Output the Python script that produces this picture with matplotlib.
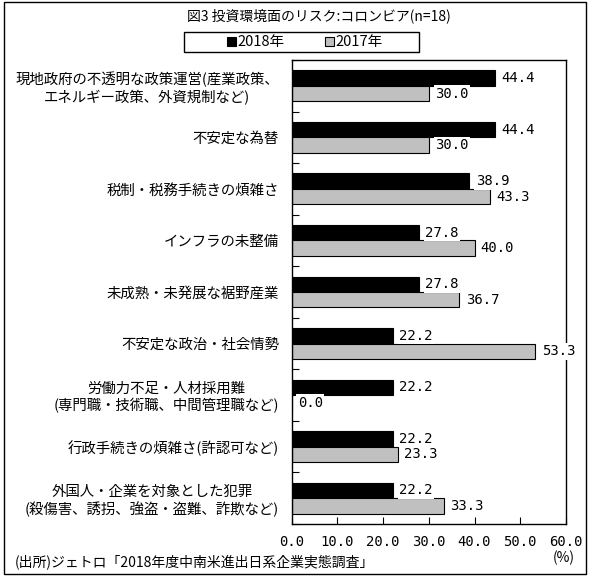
import matplotlib
matplotlib.use("Agg")
import matplotlib.pyplot as plt
from matplotlib.patches import Rectangle
import numpy as np

plt.rcParams['font.family'] = ['Noto Sans CJK JP', 'DejaVu Sans']

categories = [
    "現地政府の不透明な政策運営(産業政策、\nエネルギー政策、外資規制など)",
    "不安定な為替",
    "税制・税務手続きの煩雑さ",
    "インフラの未整備",
    "未成熟・未発展な裾野産業",
    "不安定な政治・社会情勢",
    "労働力不足・人材採用難\n(専門職・技術職、中間管理職など)",
    "行政手続きの煩雑さ(許認可など)",
    "外国人・企業を対象とした犯罪\n(殺傷害、誘拐、強盗・盗難、詐欺など)",
]
values_2018 = [44.4, 44.4, 38.9, 27.8, 27.8, 22.2, 22.2, 22.2, 22.2]
values_2017 = [30.0, 30.0, 43.3, 40.0, 36.7, 53.3, 0.0, 23.3, 33.3]
series_names = ["2018年", "2017年"]
series_colors = ["black", "#c0c0c0"]
xticks = [0, 10, 20, 30, 40, 50, 60]
title = "図3 投資環境面のリスク:コロンビア(n=18)"
source = "(出所)ジェトロ「2018年度中南米進出日系企業実態調査」"

W, H = 592, 580
fig = plt.figure(figsize=(W / 100, H / 100), dpi=100)

def fx(px):
    return px / W

def fy(py):
    return 1 - py / H

# outer border
fig.patches.append(Rectangle((fx(4), fy(574)), fx(586) - fx(4), fy(2) - fy(574),
                             transform=fig.transFigure, fill=False,
                             edgecolor='black', linewidth=1.0))

left, right, top, bottom = 291.5, 566, 60, 524
ax = fig.add_axes([fx(left), fy(bottom), fx(right) - fx(left), fy(top) - fy(bottom)])

n = len(categories)
y = np.arange(n)
h = 0.3
b1 = ax.barh(y - h / 2, values_2018, height=h, color=series_colors[0], edgecolor='black', linewidth=0.8)
b2 = ax.barh(y + h / 2, values_2017, height=h, color=series_colors[1], edgecolor='black', linewidth=0.8)

for bars, vals in ((b1, values_2018), (b2, values_2017)):
    for rect, v in zip(bars, vals):
        ax.annotate(f"{v:.1f}", xy=(v, rect.get_y() + rect.get_height() / 2),
                    xytext=(4.5, 0), textcoords='offset points', ha='left', va='center',
                    fontsize=10, family=['DejaVu Sans Mono'],
                    bbox=dict(boxstyle='square,pad=0.1', facecolor='white', edgecolor='none'),
                    clip_on=False, zorder=5)

ax.set_xlim(0, 60)
ax.set_ylim(n - 0.5, -0.5)
ax.set_xticks(xticks)
ax.set_xticklabels([f"{t:.1f}" for t in xticks], family=['DejaVu Sans Mono'])
ax.set_yticks(y)
ax.set_yticklabels(categories, fontsize=10.4, multialignment='center', linespacing=1.2)
ax.tick_params(axis='y', which='major', length=0, pad=9)
ax.set_yticks(np.arange(n + 1) - 0.5, minor=True)
ax.tick_params(axis='y', which='minor', direction='in', length=5, width=0.8)
ax.tick_params(axis='x', direction='in', length=5, width=0.8, labelsize=10, pad=8)
for s in ax.spines.values():
    s.set_linewidth(1.0)

fig.text(fx(319), fy(16), title, ha='center', va='center', fontsize=10)

# legend (drawn as a framed box with two entries)
fig.patches.append(Rectangle((fx(184), fy(52)), fx(419) - fx(184), fy(32) - fy(52),
                             transform=fig.transFigure, fill=False,
                             edgecolor='black', linewidth=1.0))
for name, col, x0 in zip(series_names, series_colors, (227, 325)):
    fig.patches.append(Rectangle((fx(x0), fy(46)), fx(9), fy(37) - fy(46),
                                 transform=fig.transFigure, facecolor=col,
                                 edgecolor='black', linewidth=0.8))
    fig.text(fx(x0 + 10), fy(42), name, ha='left', va='center', fontsize=10.5)

fig.text(fx(564), fy(558), "(%)", ha='center', va='center', fontsize=10)
fig.text(fx(15), fy(562), source, ha='left', va='center', fontsize=10)

fig.savefig("out.png", dpi=100)
